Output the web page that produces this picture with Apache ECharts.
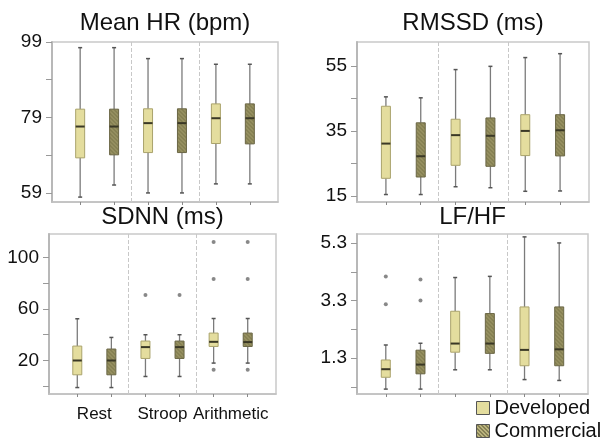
<!DOCTYPE html>
<html>
<head>
<meta charset="utf-8">
<script src="https://cdn.jsdelivr.net/npm/echarts@6/dist/echarts.min.js"></script>
<style>
  html, body { margin: 0; padding: 0; background: #fff; }
  #chart { width: 601px; height: 445px; }
</style>
</head>
<body>
<div id="chart"></div>
<script>
// groups and series names
const groups = ["Rest", "Stroop", "Arithmetic"];
const seriesNames = ["Developed", "Commercial"];

// box stats per group: [low, q1, median, q3, high]
const hrDeveloped = [[57.9, 68.3, 76.6, 81.2, 97.5], [59.0, 69.7, 77.5, 81.3, 94.6], [61.4, 72.1, 78.8, 82.6, 93.1]];
const hrCommercial = [[61.1, 69.1, 76.6, 81.2, 97.5], [59.0, 69.7, 77.5, 81.3, 94.6], [61.4, 72.0, 78.8, 82.6, 93.1]];

const rmssdDeveloped = [[15.4, 20.4, 31.1, 42.6, 45.5], [17.8, 24.4, 33.7, 38.6, 53.9], [16.4, 27.4, 35.0, 40.0, 57.6]];
const rmssdCommercial = [[15.4, 20.8, 27.2, 37.5, 45.2], [17.5, 24.1, 33.5, 39.0, 54.9], [16.5, 27.3, 35.2, 40.0, 58.8]];

const sdnnDeveloped = [[-1, 8.9, 20.0, 31.2, 52.4], [7.6, 21.6, 30.4, 35.1, 40.0], [18.0, 30.9, 34.5, 41.3, 52.6]];
const sdnnCommercial = [[-1, 8.9, 20.0, 28.9, 37.9], [7.6, 21.6, 30.4, 35.1, 40.0], [18.0, 30.9, 34.3, 41.3, 52.6]];

const lfhfDeveloped = [[0.23, 0.64, 0.92, 1.24, 1.76], [0.90, 1.51, 1.81, 2.93, 4.10], [0.56, 1.04, 1.59, 3.08, 5.51]];
const lfhfCommercial = [[0.23, 0.76, 1.08, 1.58, 1.82], [0.90, 1.47, 1.81, 2.85, 4.14], [0.53, 1.04, 1.61, 3.08, 5.30]];

// outliers: [box position 1..6, value]
const hrOutliers = [];
const rmssdOutliers = [];
const sdnnOutliers = [[3, 70.8], [4, 70.8], [5, 112], [5, 83.2], [5, 12.8], [6, 112], [6, 83.2], [6, 12.8]];
const lfhfOutliers = [[1, 4.14], [1, 3.17], [2, 4.03], [2, 3.30]];

// tick labels
const hrTicks = [59, 79, 99];
const hrMinor = [59, 69, 79, 89, 99];
const rmssdTicks = [15, 35, 55];
const rmssdMinor = [15, 25, 35, 45, 55];
const sdnnTicks = [20, 60, 100];
const sdnnMinor = [0, 20, 40, 60, 80, 100];
const lfhfTicks = [1.3, 3.3, 5.3];
const lfhfMinor = [0.3, 1.3, 2.3, 3.3, 4.3, 5.3];

const font = "Liberation Sans, Arial, sans-serif";

// hatched fill for the commercial boxes
function makeHatch(light, dark) {
  const c = document.createElement("canvas");
  c.width = 4;
  c.height = 4;
  const ctx = c.getContext("2d");
  ctx.fillStyle = light;
  ctx.fillRect(0, 0, 4, 4);
  ctx.fillStyle = dark;
  for (let i = 0; i < 4; i++) {
    ctx.fillRect(i, i, 1, 1);
    ctx.fillRect((i + 1) % 4, i, 1, 1);
  }
  return c;
}
const hatch = { image: makeHatch("#958f60", "#868153"), repeat: "repeat" };
const legendHatch = { image: makeHatch("#d6cf92", "#6a6641"), repeat: "repeat" };

const devFill = "#e4dd9e";
const devBorder = "#aaa36c";
const comBorder = "#6a6645";

const panels = [
  { title: "Mean HR (bpm)", grid: { left: 52, top: 42, width: 226, height: 160 }, min: 56.6, max: 99,
    dev: hrDeveloped, com: hrCommercial, out: hrOutliers, ticks: hrTicks, minor: hrMinor, titleY: 11 },
  { title: "RMSSD (ms)", grid: { left: 357, top: 42, width: 232, height: 160 }, min: 13.1, max: 62.4,
    dev: rmssdDeveloped, com: rmssdCommercial, out: rmssdOutliers, ticks: rmssdTicks, minor: rmssdMinor, titleY: 11 },
  { title: "SDNN (ms)", grid: { left: 49, top: 234, width: 227, height: 160 }, min: -6, max: 118.2,
    dev: sdnnDeveloped, com: sdnnCommercial, out: sdnnOutliers, ticks: sdnnTicks, minor: sdnnMinor, titleY: 205, xLabels: true },
  { title: "LF/HF", grid: { left: 357, top: 234, width: 231, height: 160 }, min: 0.06, max: 5.61,
    dev: lfhfDeveloped, com: lfhfCommercial, out: lfhfOutliers, ticks: lfhfTicks, minor: lfhfMinor, titleY: 205 }
];

function boxItem(stats, g, offset) {
  return [2 * g + 1 + offset].concat(stats);
}

function renderBox(fill, border) {
  return function (params, api) {
    const x = api.value(0);
    const low = api.coord([x, api.value(1)]);
    const q1 = api.coord([x, api.value(2)]);
    const med = api.coord([x, api.value(3)]);
    const q3 = api.coord([x, api.value(4)]);
    const high = api.coord([x, api.value(5)]);
    const cx = low[0];
    const hw = 4.5;
    return {
      type: "group",
      children: [
        { type: "line", shape: { x1: cx, y1: q1[1], x2: cx, y2: low[1] }, style: { stroke: "#7b7b7b", lineWidth: 1.3 } },
        { type: "line", shape: { x1: cx, y1: q3[1], x2: cx, y2: high[1] }, style: { stroke: "#7b7b7b", lineWidth: 1.3 } },
        { type: "line", shape: { x1: cx - 2, y1: low[1], x2: cx + 2, y2: low[1] }, style: { stroke: "#555", lineWidth: 1.5 } },
        { type: "line", shape: { x1: cx - 2, y1: high[1], x2: cx + 2, y2: high[1] }, style: { stroke: "#555", lineWidth: 1.5 } },
        { type: "rect", shape: { x: cx - hw, y: q3[1], width: hw * 2, height: q1[1] - q3[1] }, style: { fill: fill, stroke: border, lineWidth: 1 } },
        { type: "line", shape: { x1: cx - hw, y1: med[1], x2: cx + hw, y2: med[1] }, style: { stroke: "#3a3826", lineWidth: 2 } }
      ]
    };
  };
}

// one legend block per entry, stacked in the bottom-right corner
function legendBlock(name, color, top) {
  return {
    orient: "vertical",
    left: 476,
    top: top,
    itemWidth: 13,
    itemHeight: 13,
    padding: 0,
    selectedMode: false,
    textStyle: { fontSize: 20, color: "#111", fontFamily: font },
    data: [{ name: name, icon: "rect", itemStyle: { color: color, borderColor: "#555", borderWidth: 1 } }]
  };
}

const option = {
  animation: false,
  textStyle: { fontFamily: font },
  title: [],
  legend: [
    legendBlock(seriesNames[0], devFill, 398),
    legendBlock(seriesNames[1], legendHatch, 421)
  ],
  grid: [],
  xAxis: [],
  yAxis: [],
  series: []
};

panels.forEach(function (p, i) {
  option.title.push({
    text: p.title,
    left: p.grid.left + p.grid.width / 2,
    top: p.titleY,
    textAlign: "center",
    padding: 0,
    textStyle: { fontSize: 24, fontWeight: "normal", color: "#111", fontFamily: font, lineHeight: 24 }
  });
  option.grid.push(Object.assign({ show: true, borderColor: "#c9c9c9", borderWidth: 1.5, backgroundColor: "#fff" }, p.grid));
  option.xAxis.push({
    type: "value",
    gridIndex: i,
    min: 0.17,
    max: 6.83,
    splitLine: { show: false },
    axisLine: { show: true, onZero: false, lineStyle: { color: "#c0c0c0", width: 1.5 } },
    axisTick: { show: true, length: 3, customValues: [1, 2, 3, 4, 5, 6], lineStyle: { color: "#888" } },
    axisLabel: {
      show: !!p.xLabels,
      customValues: [1.5, 3.5, 5.5],
      margin: 12,
      fontSize: 17,
      color: "#111",
      formatter: function (v) { return groups[Math.round((v - 1.5) / 2)]; }
    }
  });
  option.yAxis.push({
    type: "value",
    gridIndex: i,
    min: p.min,
    max: p.max,
    splitLine: { show: false },
    axisLine: { show: true, onZero: false, lineStyle: { color: "#b8b8b8", width: 2 } },
    axisTick: { show: true, length: 6, customValues: p.minor, lineStyle: { color: "#999" } },
    axisLabel: { customValues: p.ticks, margin: 10, fontSize: 19, color: "#111" }
  });
  option.series.push({
    name: seriesNames[0],
    type: "custom",
    xAxisIndex: i,
    yAxisIndex: i,
    itemStyle: { color: devFill },
    renderItem: renderBox(devFill, devBorder),
    encode: { x: 0, y: [1, 2, 3, 4, 5] },
    data: p.dev.map(function (s, g) { return boxItem(s, g, 0); })
  });
  option.series.push({
    name: seriesNames[1],
    type: "custom",
    xAxisIndex: i,
    yAxisIndex: i,
    itemStyle: { color: hatch },
    renderItem: renderBox(hatch, comBorder),
    encode: { x: 0, y: [1, 2, 3, 4, 5] },
    data: p.com.map(function (s, g) { return boxItem(s, g, 1); })
  });
  // outliers + dashed group separators
  option.series.push({
    type: "scatter",
    xAxisIndex: i,
    yAxisIndex: i,
    symbolSize: 4,
    itemStyle: { color: "#6a6a6a" },
    data: p.out,
    markLine: {
      silent: true,
      symbol: "none",
      label: { show: false },
      lineStyle: { type: "dashed", color: "#c8c8c8", width: 1 },
      data: [{ xAxis: 2.5 }, { xAxis: 4.5 }]
    }
  });
});

const chart = echarts.init(document.getElementById("chart"), null, { renderer: "canvas" });
chart.setOption(option);
</script>
</body>
</html>
